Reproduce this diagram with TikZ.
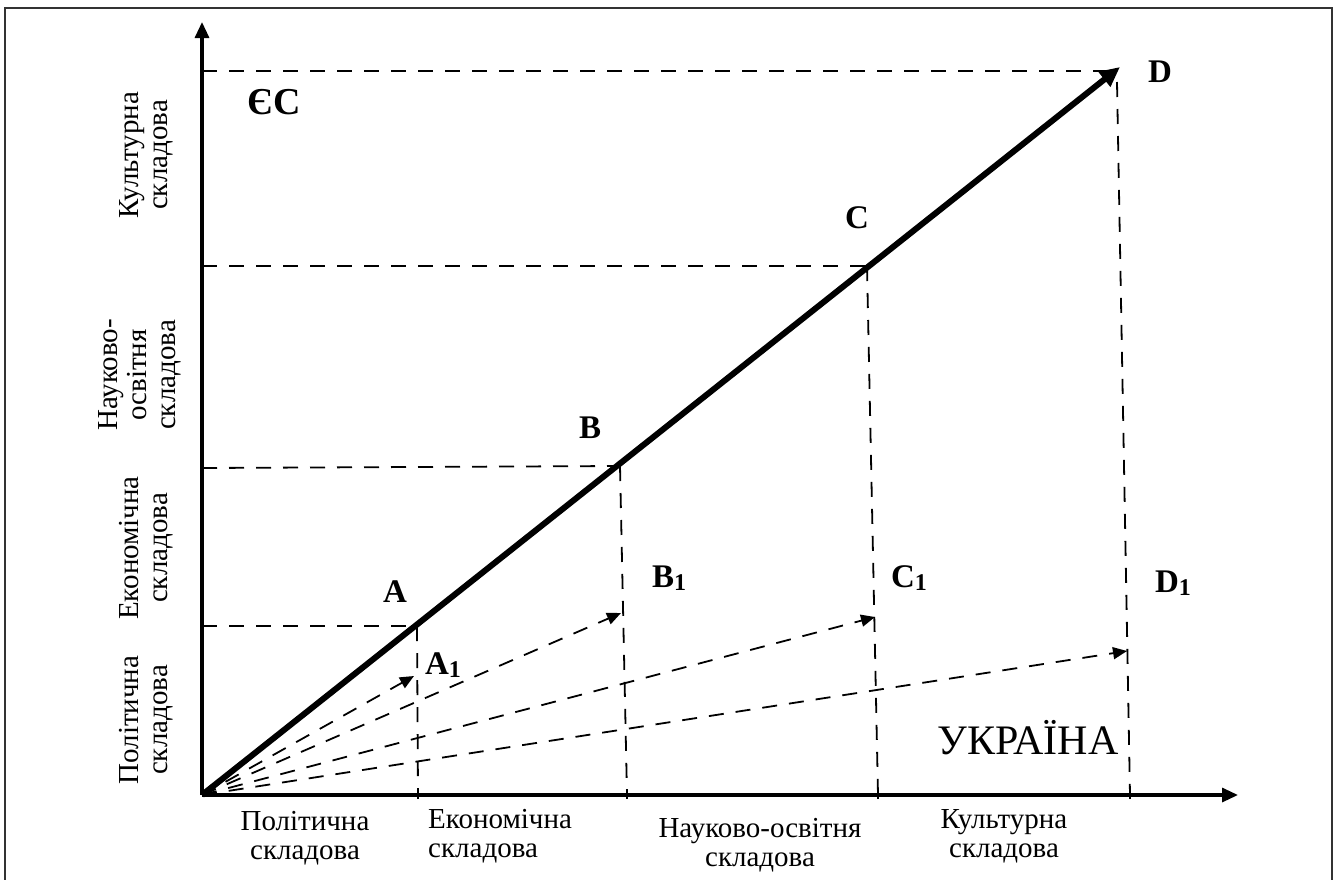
\documentclass[tikz,border=0pt]{standalone}
\usepackage{fontspec}
\setmainfont{Liberation Serif}
\usetikzlibrary{arrows.meta}
\newcommand{\subone}{\raisebox{-3pt}{\fontsize{24}{24}\selectfont 1}}
\begin{document}
\begin{tikzpicture}[x=1pt,y=-1pt,
 axisline/.style={line width=3.2pt,-{Triangle[length=16pt,width=14pt]}},
 mainline/.style={line width=6pt,-{Triangle[length=20pt,width=18pt]}},
 guide/.style={line width=1.8pt,dash pattern=on 15pt off 12pt},
 darr/.style={guide,-{Triangle[length=14pt,width=12pt]}},
 tickmark/.style={line width=1.5pt},
 ptlab/.style={font=\fontsize{33}{33}\selectfont\bfseries,inner sep=0pt},
 lab/.style={font=\fontsize{29}{29}\selectfont,align=center,inner sep=0pt},
]
\useasboundingbox (0,0) rectangle (1336,879);
\draw[line width=2.5pt,draw=black!80] (5,8) rectangle (1332,895);

% points
\coordinate (O) at (202,795);
\coordinate (Ytip) at (202,22);
\coordinate (Xtip) at (1238,795);
\coordinate (A) at (417,626);
\coordinate (B) at (620,466);
\coordinate (C) at (867,266);
\coordinate (D) at (1120,67);
\coordinate (Dy) at (202,71);  \coordinate (Dh) at (1108,71);
\coordinate (Dv) at (1117,82); \coordinate (Dx) at (1130,795);
\coordinate (Cy) at (202,266); \coordinate (Cx) at (878,795);
\coordinate (By) at (202,468); \coordinate (Bx) at (627,795);
\coordinate (Ay) at (202,626); \coordinate (Ax) at (418,795);
\coordinate (A1) at (414,676);
\coordinate (B1) at (621,613);
\coordinate (C1) at (875,617);
\coordinate (D1) at (1127,651);

% guide lines
\draw[guide] (Dy) -- (Dh);
\draw[guide] (Dv) -- (Dx);
\draw[guide] (Cy) -- (C);
\draw[guide] (C) -- (Cx);
\draw[guide] (By) -- (B);
\draw[guide] (B) -- (Bx);
\draw[guide] (Ay) -- (A);
\draw[guide] (A) -- (Ax);

% dashed arrows
\draw[darr] (O) -- (A1);
\draw[darr] (O) -- (B1);
\draw[darr] (O) -- (C1);
\draw[darr] (O) -- (D1);

% axes
\draw[axisline] (O) -- (Ytip);
\draw[axisline] (O) -- (Xtip);
\foreach \p in {Ax,Bx,Cx,Dx} \draw[tickmark] ([yshift=-4pt]\p) -- ([yshift=6pt]\p);

% main diagonal
\draw[mainline] (O) -- (D);

% point labels
\node[ptlab] (lA) at (395,592) {A};
\node[ptlab] (lB) at (590,428) {B};
\node[ptlab] (lC) at (857,218) {C};
\node[ptlab] (lD) at (1160,72) {D};
\node[ptlab,font=\fontsize{38}{38}\selectfont\bfseries] (lEU) at (274,102) {ЄС};
\node[ptlab] (lA1) at (443,665) {A\subone};
\node[ptlab] (lB1) at (669,578) {B\subone};
\node[ptlab] (lC1) at (909,578) {C\subone};
\node[ptlab] (lD1) at (1173,583) {D\subone};
\node[font=\fontsize{42}{42}\selectfont,inner sep=0pt] (UA) at (1028,738) {УКРАЇНА};

% y-axis labels
\node[lab,rotate=90] (y1) at (146,720) {Політична\\складова};
\node[lab,rotate=90] (y2) at (146,548) {Економічна\\складова};
\node[lab,rotate=90] (y3) at (140,375) {Науково-\\освітня\\складова};
\node[lab,rotate=90] (y4) at (146,155) {Культурна\\складова};

% x-axis labels
\node[lab] (x1) at (305,838) {Політична\\складова};
\node[lab,align=left,anchor=west] (x2) at (428,836) {Економічна\\складова};
\node[lab] (x3) at (760,845) {Науково-освітня\\складова};
\node[lab] (x4) at (1004,836) {Культурна\\складова};
\end{tikzpicture}
\end{document}
